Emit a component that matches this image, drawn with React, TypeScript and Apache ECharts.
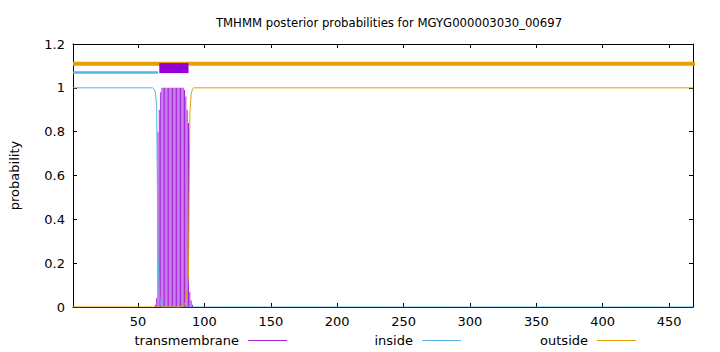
import React, { useEffect, useRef } from "react";
import * as echarts from "echarts";

const TITLE = "TMHMM posterior probabilities for MGYG000003030_00697";
const SEQ_MIN = 1;
const SEQ_MAX = 468;
const X_TICKS = [50, 100, 150, 200, 250, 300, 350, 400, 450];

// posterior probability of transmembrane per residue (impulses)
const tmResidues = [63, 64, 65, 66, 67, 68, 69, 70, 71, 72, 73, 74, 75, 76, 77, 78, 79, 80, 81, 82, 83, 84, 85, 86, 87, 88, 89, 90, 91];
const tmValues = [0.01, 0.04, 0.8, 0.9, 0.98, 1, 1, 1, 1, 1, 1, 1, 1, 1, 1, 1, 1, 1, 1, 1, 1, 1, 0.99, 0.96, 0.9, 0.84, 0.07, 0.03, 0.01];

// inside probability
const insideX = [1, 61, 62, 63, 64, 65, 66, 67, 68, 468];
const insideY = [1, 1, 0.995, 0.98, 0.92, 0.25, 0.06, 0.01, 0, 0];

// outside probability
const outsideX = [1, 83, 84, 85, 86, 87, 88, 89, 90, 91, 92, 468];
const outsideY = [0, 0, 0.005, 0.01, 0.03, 0.08, 0.15, 0.88, 0.97, 0.995, 1, 1];

// predicted topology bars above the plot
const topoInsideX = [1, 65];
const topoInsideY = 1.07;
const topoTmX = [66, 88];
const topoTmY = 1.09;
const topoOutsideX = [1, 500];
const topoOutsideY = 1.11;

const COLOR_TM = "#9400d3";
const COLOR_IN = "#56b4e9";
const COLOR_OUT = "#e69f00";
const FONT = "DejaVu Sans";

export default function App() {
  const ref = useRef<HTMLDivElement>(null);
  useEffect(() => {
    if (!ref.current) return;
    const chart = echarts.init(ref.current, null, { renderer: "svg" });
    const txt = { fontFamily: FONT, fontSize: 13, color: "#000" };
    const axisCommon = {
      type: "value" as const,
      axisLine: { show: true, onZero: false, lineStyle: { color: "#000", width: 1 } },
      splitLine: { show: false },
    };
    const legendCommon = {
      orient: "horizontal" as const,
      align: "right" as const,
      icon: "rect",
      itemWidth: 39,
      itemHeight: 1,
      padding: 0,
      top: 334,
      textStyle: { ...txt, padding: [0, 4, 2, 0] },
      selectedMode: false,
    };
    chart.setOption({
      animation: false,
      backgroundColor: "#fff",
      title: {
        text: TITLE,
        left: 384,
        top: 12,
        textAlign: "center",
        textStyle: { ...txt, fontSize: 11.7, fontWeight: "normal" },
      },
      grid: { left: 73, right: 27, top: 44, bottom: 45 },
      xAxis: [
        {
          ...axisCommon,
          min: SEQ_MIN,
          max: SEQ_MAX,
          position: "bottom",
          axisTick: { show: true, inside: true, length: 4, customValues: X_TICKS, lineStyle: { color: "#000" } },
          axisLabel: { show: true, customValues: X_TICKS, margin: 8, ...txt },
        },
        {
          ...axisCommon,
          min: SEQ_MIN,
          max: SEQ_MAX,
          position: "top",
          axisTick: { show: true, inside: true, length: 4, customValues: X_TICKS, lineStyle: { color: "#000" } },
          axisLabel: { show: false },
        },
      ],
      yAxis: [
        {
          ...axisCommon,
          min: 0,
          max: 1.2,
          interval: 0.2,
          position: "left",
          name: "probability",
          nameLocation: "middle",
          nameGap: 52,
          nameRotate: 90,
          nameTextStyle: txt,
          axisTick: { show: true, inside: true, length: 4, lineStyle: { color: "#000" } },
          axisLabel: { show: true, margin: 8, ...txt },
        },
        {
          ...axisCommon,
          min: 0,
          max: 1.2,
          interval: 0.2,
          position: "right",
          axisTick: { show: true, inside: true, length: 4, lineStyle: { color: "#000" } },
          axisLabel: { show: false },
        },
      ],
      legend: [
        { ...legendCommon, right: 433, data: ["transmembrane"] },
        { ...legendCommon, right: 259, data: ["inside"] },
        { ...legendCommon, right: 84, data: ["outside"] },
      ],
      series: [
        {
          name: "outside-topology",
          type: "line",
          data: topoOutsideX.map((x) => [x, topoOutsideY]),
          symbol: "none",
          clip: false,
          lineStyle: { color: COLOR_OUT, width: 4 },
          z: 1,
        },
        {
          name: "inside-topology",
          type: "line",
          data: topoInsideX.map((x) => [x, topoInsideY]),
          symbol: "none",
          clip: false,
          lineStyle: { color: COLOR_IN, width: 2.5 },
          z: 1,
        },
        {
          name: "tm-topology",
          type: "line",
          data: topoTmX.map((x) => [x, topoTmY]),
          symbol: "none",
          clip: false,
          lineStyle: { color: COLOR_TM, width: 10 },
          z: 2,
        },
        {
          name: "transmembrane",
          type: "bar",
          data: tmResidues.map((r, i) => [r, tmValues[i]]),
          barWidth: 1,
          itemStyle: { color: COLOR_TM, opacity: 0.85 },
          z: 2,
        },
        {
          name: "inside",
          type: "line",
          data: insideX.map((x, i) => [x, insideY[i]]),
          symbol: "none",
          itemStyle: { color: COLOR_IN },
          lineStyle: { color: COLOR_IN, width: 1 },
          z: 3,
        },
        {
          name: "outside",
          type: "line",
          data: outsideX.map((x, i) => [x, outsideY[i]]),
          symbol: "none",
          itemStyle: { color: COLOR_OUT },
          lineStyle: { color: COLOR_OUT, width: 1 },
          z: 4,
        },
      ],
    });
    return () => chart.dispose();
  }, []);
  return <div ref={ref} style={{ position: "absolute", left: 0, top: 0, width: 720, height: 352 }} />;
}
